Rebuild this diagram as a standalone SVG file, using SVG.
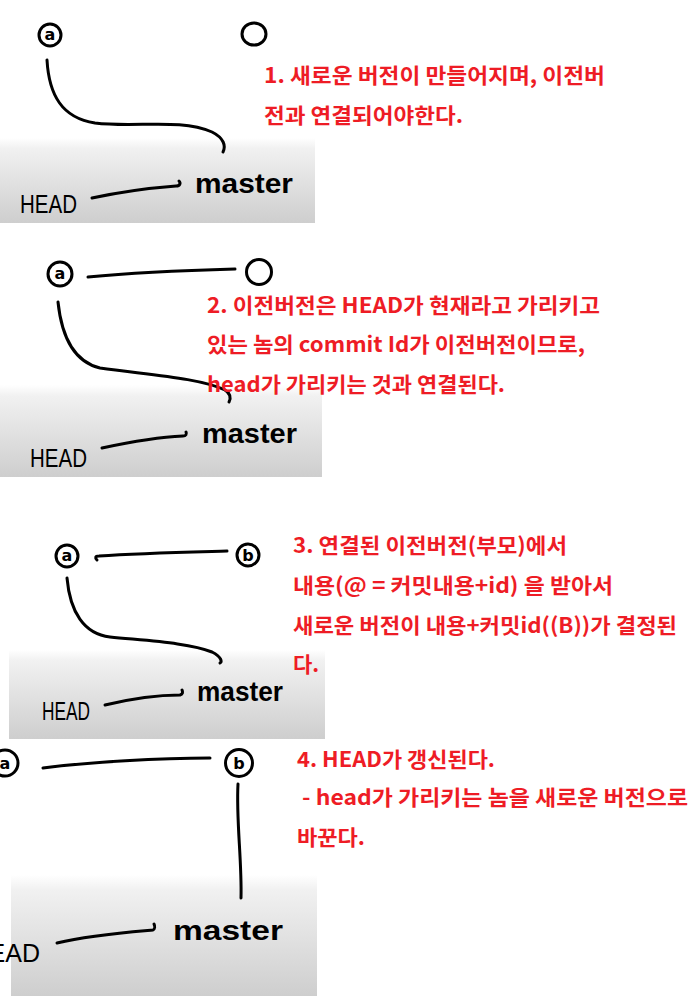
<svg xmlns="http://www.w3.org/2000/svg" width="700" height="996" viewBox="0 0 700 996">
<defs>
<linearGradient id="shade" x1="0" y1="0" x2="0" y2="1">
<stop offset="0" stop-color="#ffffff"/>
<stop offset="0.12" stop-color="#f1f1f1"/>
<stop offset="1" stop-color="#cecece"/>
</linearGradient>
<style>
.bg{fill:url(#shade)}
.ink{fill:none;stroke:#000;stroke-width:3;stroke-linecap:round;stroke-linejoin:round}
.node{fill:none;stroke:#000;stroke-width:3}
.ltr{font-family:"DejaVu Sans",sans-serif;font-weight:bold;font-size:16px;fill:#000;text-anchor:middle}
.head{font-family:"Liberation Sans",sans-serif;font-size:25px;fill:#000}
.master{font-family:"Liberation Sans",sans-serif;font-weight:bold;font-size:28px;fill:#000}
.note{font-family:"Noto Sans CJK KR",sans-serif;font-weight:bold;font-size:21px;fill:#ee1c25}
</style>
</defs>
<rect width="700" height="996" fill="#ffffff"/>

<g id="panel1">
<rect class="bg" x="0" y="138" width="315" height="85"/>
<g id="p1-node-a"><circle class="node" cx="50" cy="35" r="11"/><text class="ltr" x="50" y="40">a</text></g>
<g id="p1-node-new"><ellipse class="node" cx="254" cy="34" rx="12" ry="11"/></g>
<g id="p1-connectors">
<path class="ink" d="M47,60 C49,95 62,118 95,123 C135,128 180,118 212,132 C224,138 226,146 223,152"/>
<path class="ink" d="M92,198 C120,192 150,188 176,186 C180,186 181,183 179,181"/>
</g>
<g id="p1-head"><text class="head" x="20" y="213" textLength="57" lengthAdjust="spacingAndGlyphs">HEAD</text></g>
<g id="p1-master"><text class="master" x="195" y="193" textLength="98" lengthAdjust="spacingAndGlyphs">master</text></g>
<text class="note" x="264" y="83" textLength="341" lengthAdjust="spacingAndGlyphs">1. 새로운 버전이 만들어지며, 이전버</text>
<text class="note" x="264" y="123" textLength="199" lengthAdjust="spacingAndGlyphs">전과 연결되어야한다.</text>
</g>

<g id="panel2">
<rect class="bg" x="0" y="385" width="322" height="92"/>
<g id="p2-node-a"><circle class="node" cx="60" cy="274" r="12"/><text class="ltr" x="60" y="279">a</text></g>
<g id="p2-node-new"><circle class="node" cx="259" cy="272" r="12.5"/></g>
<g id="p2-connectors">
<path class="ink" d="M88,277 C140,272 200,270 235,269"/>
<path class="ink" d="M58,302 C62,340 75,362 100,368 C150,375 200,378 225,390 C231,394 231,398 229,402"/>
<path class="ink" d="M102,448 C130,442 160,437 183,436 C186,436 187,434 186,432"/>
</g>
<g id="p2-head"><text class="head" x="30" y="467" textLength="57" lengthAdjust="spacingAndGlyphs">HEAD</text></g>
<g id="p2-master"><text class="master" x="202" y="443" textLength="95" lengthAdjust="spacingAndGlyphs">master</text></g>
<text class="note" x="207" y="313" textLength="393" lengthAdjust="spacingAndGlyphs">2. 이전버전은 HEAD가 현재라고 가리키고</text>
<text class="note" x="207" y="352" textLength="378" lengthAdjust="spacingAndGlyphs">있는 놈의 commit Id가 이전버전이므로,</text>
<text class="note" x="207" y="392" textLength="298" lengthAdjust="spacingAndGlyphs">head가 가리키는 것과 연결된다.</text>
</g>

<g id="panel3">
<rect class="bg" x="9" y="650" width="316" height="89"/>
<g id="p3-node-a"><circle class="node" cx="67" cy="556" r="11"/><text class="ltr" x="67" y="561">a</text></g>
<g id="p3-node-b"><circle class="node" cx="248" cy="555" r="11"/><text class="ltr" x="248" y="561">b</text></g>
<g id="p3-connectors">
<path class="ink" d="M97,560 C95,558 95,556 99,556 C140,553 190,552 227,551"/>
<path class="ink" d="M67,578 C70,612 84,634 110,637 C150,641 190,643 212,652 C222,657 222,662 220,663"/>
<path class="ink" d="M105,705 C130,699 160,695 180,695 C183,694 183,692 182,690"/>
</g>
<g id="p3-head"><text class="head" x="42" y="720" font-size="22" textLength="48" lengthAdjust="spacingAndGlyphs">HEAD</text></g>
<g id="p3-master"><text class="master" x="197" y="701" font-size="25" textLength="86" lengthAdjust="spacingAndGlyphs">master</text></g>
<text class="note" x="293" y="553" textLength="274" lengthAdjust="spacingAndGlyphs">3. 연결된 이전버전(부모)에서</text>
<text class="note" x="293" y="593" textLength="320" lengthAdjust="spacingAndGlyphs">내용(@ = 커밋내용+id) 을 받아서</text>
<text class="note" x="293" y="633" textLength="384" lengthAdjust="spacingAndGlyphs">새로운 버전이 내용+커밋id((B))가 결정된</text>
<text class="note" x="293" y="672">다.</text>
</g>

<g id="panel4">
<rect class="bg" x="11" y="875" width="306" height="121"/>
<g id="p4-node-a"><circle class="node" cx="5" cy="763" r="13"/><text class="ltr" x="5" y="769">a</text></g>
<g id="p4-node-b"><circle class="node" cx="239" cy="763" r="13.5"/><text class="ltr" x="239" y="769" font-size="18">b</text></g>
<g id="p4-connectors">
<path class="ink" d="M43,768 C90,762 160,758 210,758"/>
<path class="ink" d="M238,784 C236,820 242,860 241,898"/>
<path class="ink" d="M57,943 C90,935 130,932 153,930 C155,929 155,926 154,924"/>
</g>
<g id="p4-head"><text class="head" x="40" y="962" font-size="27" text-anchor="end">HEAD</text></g>
<g id="p4-master"><text class="master" x="173" y="940" font-size="31" textLength="110" lengthAdjust="spacingAndGlyphs">master</text></g>
<text class="note" x="297" y="767" textLength="198" lengthAdjust="spacingAndGlyphs">4. HEAD가 갱신된다.</text>
<text class="note" x="302" y="805" textLength="386" lengthAdjust="spacingAndGlyphs">- head가 가리키는 놈을 새로운 버전으로</text>
<text class="note" x="297" y="845" textLength="68" lengthAdjust="spacingAndGlyphs">바꾼다.</text>
</g>
</svg>
